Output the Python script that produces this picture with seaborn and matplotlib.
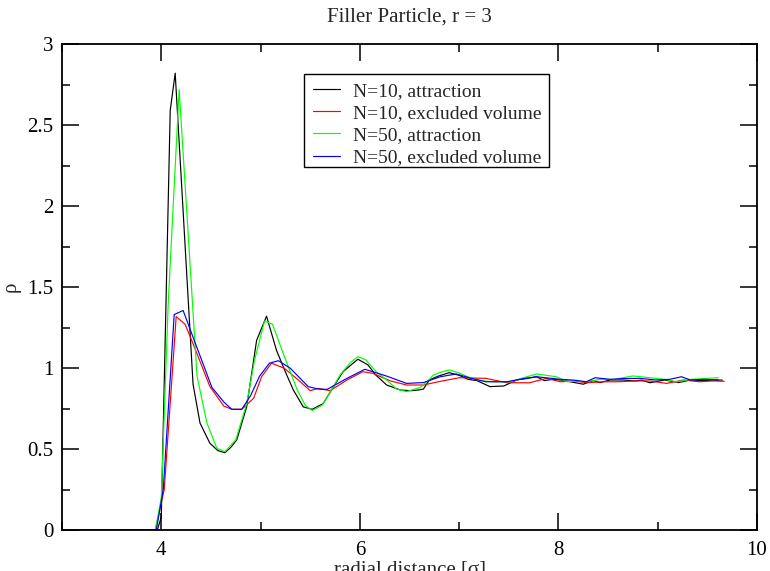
import numpy as np
import pandas as pd
import matplotlib
matplotlib.use("Agg")
import matplotlib.pyplot as plt
import matplotlib.patches as mpatches
import seaborn as sns
from matplotlib.ticker import MultipleLocator

# ---------------- data ----------------
labels = ["N=10, attraction", "N=10, excluded volume",
          "N=50, attraction", "N=50, excluded volume"]
colors = ["#000000", "#ff0000", "#00ff00", "#0000ff"]

x_n10_attr = [3.0, 3.96, 4.00, 4.09, 4.14, 4.32, 4.39, 4.49, 4.57, 4.64, 4.70, 4.76,
              4.86, 4.96, 5.06, 5.16, 5.24, 5.33, 5.43, 5.52, 5.63, 5.73, 5.83, 5.98,
              6.08, 6.16, 6.27, 6.41, 6.51, 6.59, 6.64, 6.70, 6.79, 6.90, 7.00, 7.09,
              7.18, 7.31, 7.45, 7.58, 7.68, 7.78, 7.86, 7.94, 8.04, 8.12, 8.25, 8.35,
              8.42, 8.52, 8.65, 8.76, 8.84, 8.92, 9.07, 9.21, 9.33, 9.45, 9.59, 9.65]
y_n10_attr = [0.0, 0.0, 0.08, 2.59, 2.82, 0.90, 0.66, 0.535, 0.49, 0.477, 0.51, 0.556,
              0.76, 1.17, 1.32, 1.11, 0.99, 0.864, 0.76, 0.745, 0.78, 0.88, 0.977, 1.054,
              1.02, 0.957, 0.895, 0.864, 0.86, 0.864, 0.87, 0.926, 0.95, 0.971, 0.955, 0.93,
              0.922, 0.885, 0.889, 0.926, 0.935, 0.946, 0.922, 0.93, 0.925, 0.915, 0.90, 0.922,
              0.91, 0.926, 0.926, 0.92, 0.925, 0.909, 0.926, 0.91, 0.926, 0.922, 0.926, 0.925]

x_n10_excl = [3.0, 3.94, 4.03, 4.15, 4.24, 4.32, 4.49, 4.63, 4.71, 4.81, 4.93, 5.01,
              5.11, 5.24, 5.38, 5.50, 5.58, 5.70, 5.87, 6.03, 6.13, 6.31, 6.47, 6.64,
              6.79, 7.00, 7.27, 7.48, 7.71, 7.88, 8.02, 8.16, 8.28, 8.46, 8.59, 8.78,
              8.92, 9.09, 9.26, 9.42, 9.55, 9.67]
y_n10_excl = [0.0, 0.0, 0.25, 1.317, 1.27, 1.15, 0.885, 0.765, 0.745, 0.745, 0.813, 0.946,
              1.03, 0.998, 0.926, 0.86, 0.874, 0.86, 0.926, 0.977, 0.967, 0.92, 0.895, 0.895,
              0.915, 0.94, 0.936, 0.909, 0.909, 0.936, 0.915, 0.92, 0.909, 0.915, 0.915, 0.92,
              0.92, 0.905, 0.926, 0.915, 0.92, 0.918]

x_n50_attr = [3.0, 3.94, 4.00, 4.07, 4.18, 4.36, 4.46, 4.56, 4.64, 4.75, 4.86, 4.94,
              5.04, 5.12, 5.24, 5.37, 5.45, 5.52, 5.62, 5.71, 5.80, 5.90, 5.98, 6.06,
              6.16, 6.27, 6.37, 6.47, 6.61, 6.70, 6.74, 6.82, 6.90, 7.00, 7.07, 7.15,
              7.25, 7.35, 7.52, 7.65, 7.78, 7.98, 8.09, 8.18, 8.28, 8.42, 8.56, 8.75,
              8.92, 9.07, 9.19, 9.33, 9.47, 9.61]
y_n50_attr = [0.0, 0.0, 0.2, 1.4, 2.72, 0.95, 0.66, 0.504, 0.483, 0.556, 0.78, 1.05,
              1.29, 1.27, 1.07, 0.864, 0.77, 0.737, 0.77, 0.86, 0.957, 1.03, 1.07, 1.05,
              0.98, 0.926, 0.87, 0.854, 0.88, 0.93, 0.957, 0.975, 0.988, 0.97, 0.95, 0.93,
              0.92, 0.915, 0.915, 0.94, 0.963, 0.946, 0.915, 0.92, 0.915, 0.93, 0.93, 0.951,
              0.94, 0.93, 0.915, 0.93, 0.935, 0.94]

x_n50_excl = [3.0, 3.95, 4.02, 4.13, 4.22, 4.32, 4.51, 4.63, 4.71, 4.81, 4.90, 4.99,
              5.09, 5.18, 5.30, 5.48, 5.58, 5.67, 5.87, 6.05, 6.27, 6.47, 6.64, 6.81,
              6.97, 7.13, 7.27, 7.48, 7.65, 7.78, 8.02, 8.16, 8.28, 8.37, 8.52, 8.66,
              8.82, 8.98, 9.12, 9.24, 9.33, 9.47, 9.61]
y_n50_excl = [0.0, 0.0, 0.25, 1.33, 1.355, 1.19, 0.88, 0.79, 0.745, 0.745, 0.83, 0.95,
              1.03, 1.045, 0.998, 0.885, 0.87, 0.868, 0.936, 0.992, 0.95, 0.905, 0.91, 0.946,
              0.963, 0.935, 0.915, 0.915, 0.935, 0.946, 0.93, 0.925, 0.915, 0.94, 0.93, 0.935,
              0.936, 0.926, 0.93, 0.946, 0.926, 0.93, 0.926]

xs = [x_n10_attr, x_n10_excl, x_n50_attr, x_n50_excl]
ys = [y_n10_attr, y_n10_excl, y_n50_attr, y_n50_excl]

x_tick_values = [4, 6, 8, 10]
x_tick_labels = ["4", "6", "8", "10"]
y_tick_values = [0, 0.5, 1, 1.5, 2, 2.5, 3]
y_tick_labels = ["0", "0.5", "1", "1.5", "2", "2.5", "3"]

title = "Filler Particle, r = 3"
xlabel = "radial distance [σ]"
ylabel = "ρ"

# ---------------- build long-form table ----------------
frames = []
for lab, x, y in zip(labels, xs, ys):
    frames.append(pd.DataFrame({"r": x, "rho": y, "series": lab}))
df = pd.concat(frames, ignore_index=True)

# ---------------- style ----------------
sns.set_theme(style="ticks")
plt.rcParams["font.family"] = ["Liberation Serif", "DejaVu Serif"]

fig = plt.figure(figsize=(7.7, 5.71), dpi=100)
ax = fig.add_axes([62 / 770, 41 / 571, (757 - 62) / 770, (530 - 44) / 571])

sns.lineplot(data=df, x="r", y="rho", hue="series", hue_order=labels,
             palette=dict(zip(labels, colors)), estimator=None, sort=False,
             linewidth=0.85, ax=ax, legend=False)

ax.set_xlim(3, 10)
ax.set_ylim(0, 3)
ax.xaxis.set_minor_locator(MultipleLocator(1))
ax.yaxis.set_minor_locator(MultipleLocator(0.25))
ax.set_xticks(x_tick_values)
ax.set_xticklabels(x_tick_labels)
ax.set_yticks(y_tick_values)
ax.set_yticklabels(y_tick_labels)

ax.tick_params(which="both", direction="in", top=True, right=True,
               colors="black", labelsize=15, width=1.1)
ax.tick_params(which="major", length=12)
ax.tick_params(axis="x", which="major", pad=8)
ax.tick_params(axis="y", which="major", pad=6)
ax.tick_params(which="minor", length=6)
for s in ax.spines.values():
    s.set_linewidth(1.3)
    s.set_color("black")

ax.set_xlabel(xlabel, fontsize=15, labelpad=0)
ax.set_ylabel(ylabel, fontsize=15, labelpad=5)
ax.set_title(title, fontsize=15, pad=16)

# legend entries (frameless), with a separate box drawn around them
handles = [plt.Line2D([], [], color=c, lw=0.85) for c in colors]
leg = ax.legend(handles, labels, loc="upper left",
                bbox_to_anchor=(313 / 770, 1 - 82 / 571), bbox_transform=fig.transFigure,
                borderaxespad=0, fontsize=14, frameon=False,
                labelspacing=0.24, handlelength=1.4, handletextpad=0.67, borderpad=0)
box = mpatches.Rectangle((304 / 770, 1 - 167 / 571), 245 / 770, 93 / 571,
                         transform=fig.transFigure, fill=False,
                         edgecolor="black", linewidth=1.0)
fig.add_artist(box)

fig.savefig("out.png", dpi=100)
